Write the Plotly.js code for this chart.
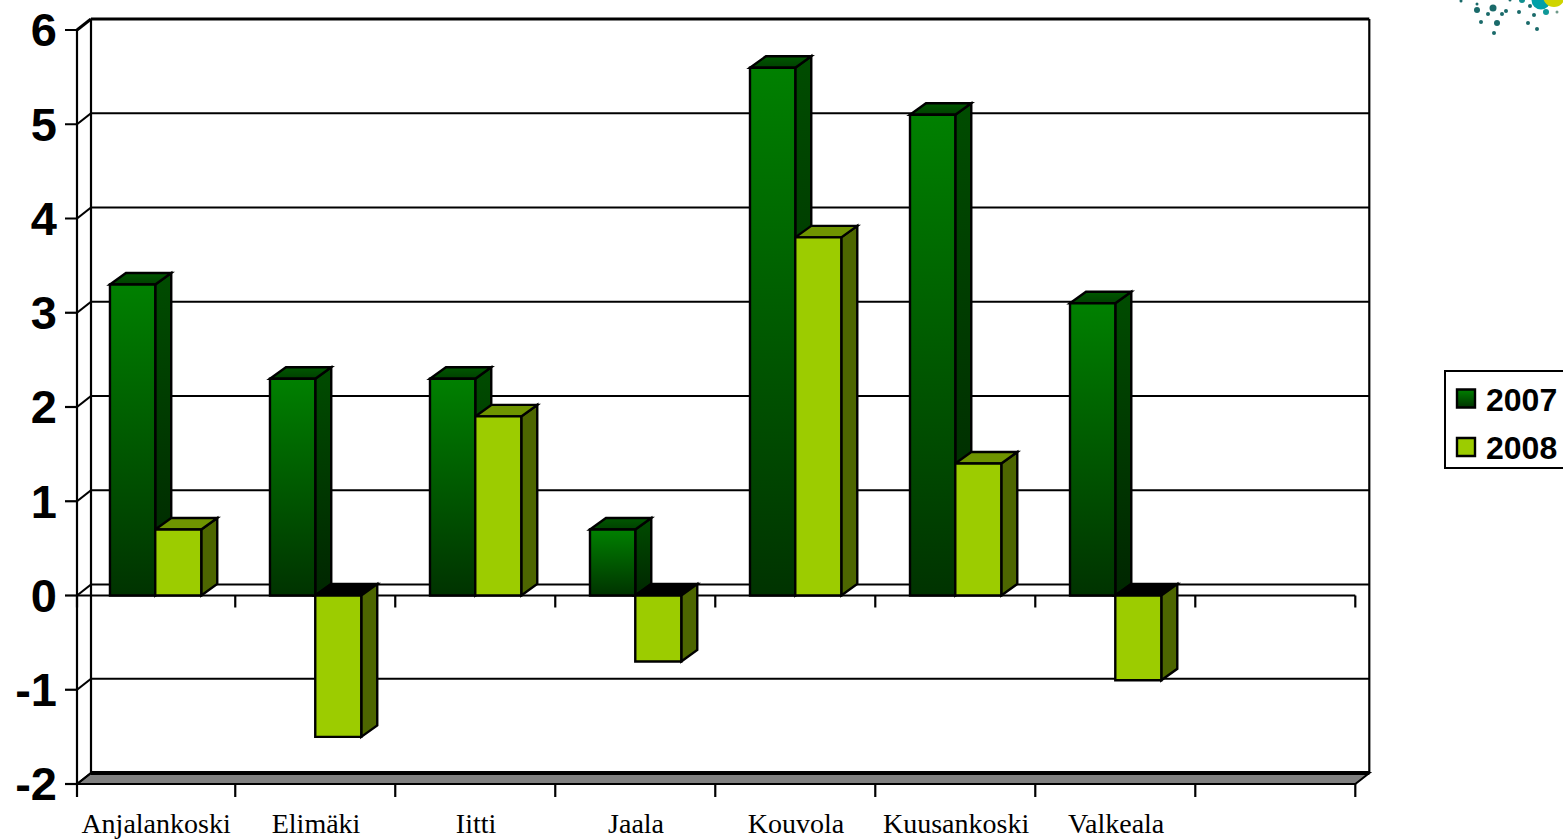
<!DOCTYPE html>
<html>
<head>
<meta charset="utf-8">
<script src="https://cdn.plot.ly/plotly-3.0.1.min.js"></script>
<style>html,body{margin:0;padding:0;background:#fff;overflow:hidden}#chart{width:1563px;height:840px}</style>
</head>
<body>
<div id="chart"></div>
<script>
var categories = ["Anjalankoski","Elimäki","Iitti","Jaala","Kouvola","Kuusankoski","Valkeala"];
var values2007 = [3.3,2.3,2.3,0.7,5.6,5.1,3.1];
var values2008 = [0.7,-1.5,1.9,-0.7,3.8,1.4,-0.9];
var seriesNames = ["2007","2008"];
var yTickValues = [6,5,4,3,2,1,0,-1,-2];
var yTickLabels = ["6","5","4","3","2","1","0","-1","-2"];
var slotEdges = [-0.489,0.5,1.5,2.5,3.5,4.5,5.5,6.5,7.5];

var W=1563,H=840;
var L=77,R=1355.3,T=30,B=784;
var xa=slotEdges[0], xb=slotEdges[slotEdges.length-1], ya=-2, yb=6;
var pxX=(R-L)/(xb-xa), pxY=(B-T)/(yb-ya);
var padL=15,padR=20,padT=15,padB=15;
var wallDX=14/pxX, wallDY=11/pxY, barDX=16/pxX, barDY=11.5/pxY;
var barW07=0.283, barW08=0.2875;

var shapes=[], grads={};
function poly(pts,fill,grad,lw){
  var d=pts.map(function(p,i){return (i?'L':'M')+p[0]+' '+p[1];}).join(' ')+' Z';
  if(grad) grads[shapes.length]=grad;
  shapes.push({type:'path',xref:'x',yref:'y',layer:'below',path:d,fillcolor:fill,line:{color:'#000',width:lw===undefined?2.4:lw}});
}
function seg(x0,y0,x1,y1,w,c){
  shapes.push({type:'line',xref:'x',yref:'y',layer:'below',x0:x0,y0:y0,x1:x1,y1:y1,line:{color:c||'#000',width:w||2}});
}
// floor and walls
poly([[xa,ya],[xa+wallDX,ya+wallDY],[xb+wallDX,ya+wallDY],[xb,ya]],'#808080',null,2);
seg(xa+wallDX,ya+wallDY,xb+wallDX,ya+wallDY,4);
seg(xa,ya,xa,yb,2.2);
seg(xa+wallDX,ya+wallDY,xa+wallDX,yb+wallDY,2.2);
seg(xb+wallDX,ya+wallDY,xb+wallDX,yb+wallDY,2.2);
seg(xa,ya,xb,ya,2);
yTickValues.forEach(function(v){
  seg(xa-12/pxX,v,xa,v,2.2);
  if(v===ya) { seg(xa,v,xa+wallDX,v+wallDY,2); return; }
  seg(xa,v,xa+wallDX,v+wallDY,v===yb?3:2.2);
  seg(xa+wallDX,v+wallDY,xb+wallDX,v+wallDY,v===yb?3:2.2);
});
// front zero axis, its ticks and the bottom ticks
seg(xa,0,xb,0,2.2);
slotEdges.forEach(function(x){
  seg(x,0,x,-12/pxY,2.2);
  seg(x,ya,x,ya-13/pxY,2.2);
});
// bar depth faces
function faces(x0,x1,v,side,topFill,sideGrad,topGrad){
  if(v>=0){
    poly([[x1,0],[x1+barDX,barDY],[x1+barDX,v+barDY],[x1,v]],side,sideGrad);
    poly([[x0,v],[x0+barDX,v+barDY],[x1+barDX,v+barDY],[x1,v]],topFill,topGrad);
  } else {
    poly([[x0,0],[x0+barDX,barDY],[x1+barDX,barDY],[x1,0]],'#000000');
    poly([[x1,v],[x1+barDX,v+barDY],[x1+barDX,barDY],[x1,0]],side,sideGrad);
  }
}
categories.forEach(function(c,i){
  faces(i-barW07,i,values2007[i],'#003800','#004d00','gSide07','gTop07');
  faces(i,i+barW08,values2008[i],'#4d6600','#6f9400',null,null);
});
// logo fragment in the top-right corner
var logoX=[1461,1477,1477,1493,1488,1502,1506,1519,1530,1522,1510,1481,1497,1528,1534,1537,1494,1546,1557];
var logoY=[1,4,10,8,14,14,11,12,6,0,0,22,23,23,15,29,33,12,12];
var logoR=[1.5,1.5,3,3.5,2,2,2,2,2,3,1.5,2,3,2,2,2,2,3,1.5];
var logoC=['#1a6a6a','#1a6a6a','#1a6a6a','#1a6a6a','#1a6a6a','#1a6a6a','#1a6a6a','#1a6a6a','#1a6a6a','#109090','#1a6a6a','#1a6a6a','#1a6a6a','#1a6a6a','#1a6a6a','#1a6a6a','#1a6a6a','#109898','#6f9a8a'];
function dot(x,y,r,c){
  shapes.push({type:'circle',xref:'paper',yref:'paper',layer:'above',x0:(x-r)/W,x1:(x+r)/W,y0:1-(y+r)/H,y1:1-(y-r)/H,fillcolor:c,line:{width:0}});
}
logoX.forEach(function(x,i){dot(x,logoY[i],logoR[i],logoC[i]);});
dot(1541,0,9.5,'#00a0a8');
dot(1554,-4,11,'#cfd400');

var xIndex=categories.map(function(c,i){return i;});
var traces=[
 {type:'bar',name:seriesNames[0],x:xIndex,y:values2007,width:barW07,offset:-barW07,marker:{color:'#006000',line:{color:'#000',width:2.4}},hoverinfo:'skip'},
 {type:'bar',name:seriesNames[1],x:xIndex,y:values2008,width:barW08,offset:0,marker:{color:'#9ccc00',line:{color:'#000',width:2.4}},hoverinfo:'skip'}
];
var layout={
 width:W,height:H,margin:{l:0,r:0,t:0,b:0,autoexpand:false},
 paper_bgcolor:'#fff',plot_bgcolor:'rgba(0,0,0,0)',
 barmode:'overlay',
 showlegend:true,
 legend:{x:1444/W,xanchor:'left',y:1-370/H,yanchor:'top',bordercolor:'#000',borderwidth:2,bgcolor:'#fff',
   font:{family:'Liberation Sans',size:32,color:'#000',weight:700},traceorder:'normal'},
 xaxis:{domain:[(L-padL)/W,(R+padR)/W],range:[xa-padL/pxX,xb+padR/pxX],type:'linear',showgrid:false,zeroline:false,showline:false,
   tickmode:'array',tickvals:xIndex.map(function(i){return i+0.005;}),ticktext:categories,ticks:'',
   tickfont:{family:'Liberation Serif',size:28,color:'#000'},ticklabelstandoff:5},
 yaxis:{domain:[1-(B+padB)/H,1-(T-padT)/H],range:[ya-padB/pxY,yb+padT/pxY],showgrid:false,zeroline:false,showline:false,
   tickmode:'array',tickvals:yTickValues,ticktext:yTickLabels,ticks:'',
   tickfont:{family:'Liberation Sans',size:47,color:'#000',weight:700},ticklabelstandoff:4},
 shapes:shapes
};
function defGrad(defs,id,c0,c1){
  var ns='http://www.w3.org/2000/svg';
  var g=document.createElementNS(ns,'linearGradient');
  g.setAttribute('id',id);g.setAttribute('x1','0');g.setAttribute('y1','0');g.setAttribute('x2','0');g.setAttribute('y2','1');
  [[0,c0],[1,c1]].forEach(function(s){
    var st=document.createElementNS(ns,'stop');st.setAttribute('offset',s[0]);st.setAttribute('stop-color',s[1]);g.appendChild(st);
  });
  defs.appendChild(g);
}
Plotly.newPlot('chart',traces,layout,{staticPlot:true,displayModeBar:false}).then(function(gd){
  var svg=gd.querySelector('svg.main-svg');
  var defs=svg.querySelector('defs');
  defGrad(defs,'gBar07','#008000','#003300');
  defGrad(defs,'gSide07','#004c00','#002600');
  defGrad(defs,'gTop07','#005800','#004000');
  gd.querySelectorAll('.shapelayer path').forEach(function(p){
    var id=p.getAttribute('data-index');
    if(grads[id]) p.style.fill='url(#'+grads[id]+')';
  });
  var bars=gd.querySelectorAll('.barlayer .trace');
  bars[0].querySelectorAll('path').forEach(function(p){p.style.fill='url(#gBar07)';});
  var items=gd.querySelectorAll('.legend .traces');
  var itemY=[28.5,77];
  items.forEach(function(it,i){
    var sw=it.querySelector('.legendbar path, .legendpoints path');
    if(sw){ sw.setAttribute('d','M9,9H-9V-9H9Z'); if(i===0) sw.style.fill='url(#gBar07)'; }
    var m=/translate\(([-\d.]+)/.exec(it.getAttribute('transform')||'');
    it.setAttribute('transform','translate('+(m?m[1]:0)+','+itemY[i]+')');
  });
  var bg=gd.querySelector('.legend rect.bg');
  if(bg) bg.setAttribute('height',97);
});
</script>
</body>
</html>
